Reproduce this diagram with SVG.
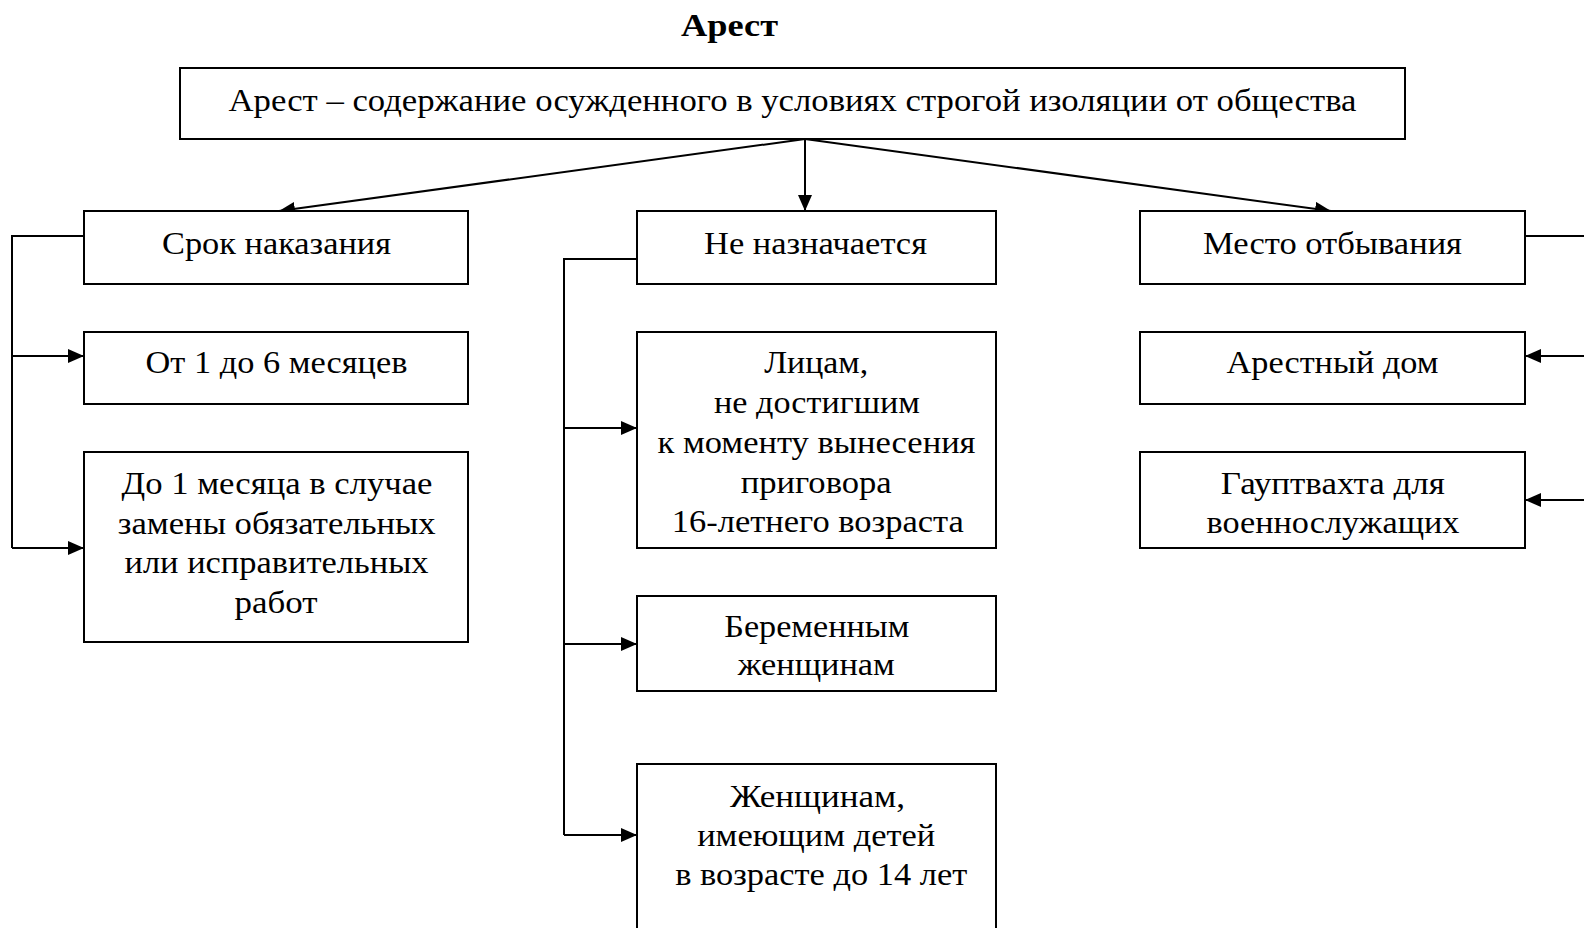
<svg xmlns="http://www.w3.org/2000/svg" width="1584" height="928" viewBox="0 0 1584 928">
<style>
rect.box{fill:#fff;stroke:#000;stroke-width:2}
text{font-family:"Liberation Serif","Times New Roman",serif;font-size:31px;fill:#000;text-anchor:middle}
text.title{font-weight:bold;font-size:32px}
.conn line,.conn polyline{stroke:#000;stroke-width:2;fill:none}
</style>
<defs>
<marker id="arr" markerUnits="userSpaceOnUse" markerWidth="18" markerHeight="16" refX="16" refY="7" orient="auto">
<path d="M0,0 L16,7 L0,14 z" fill="#000"/>
</marker>
</defs>
<text class="title" x="729.5" y="36" textLength="97" lengthAdjust="spacingAndGlyphs">Арест</text>
<g id="conn" class="conn">
<line x1="805" y1="139" x2="279" y2="211" marker-end="url(#arr)"/>
<line x1="805" y1="139" x2="805" y2="211" marker-end="url(#arr)"/>
<line x1="805" y1="139" x2="1331" y2="211" marker-end="url(#arr)"/>
<polyline points="84,236 12,236 12,548"/>
<line x1="12" y1="356" x2="84" y2="356" marker-end="url(#arr)"/>
<line x1="12" y1="548" x2="84" y2="548" marker-end="url(#arr)"/>
<polyline points="637,259 564,259 564,835"/>
<line x1="564" y1="428" x2="637" y2="428" marker-end="url(#arr)"/>
<line x1="564" y1="644" x2="637" y2="644" marker-end="url(#arr)"/>
<line x1="564" y1="835" x2="637" y2="835" marker-end="url(#arr)"/>
<line x1="1525" y1="236" x2="1590" y2="236"/>
<line x1="1590" y1="356" x2="1525" y2="356" marker-end="url(#arr)"/>
<line x1="1590" y1="500" x2="1525" y2="500" marker-end="url(#arr)"/>
</g>
<g id="root"><rect class="box" x="180" y="68" width="1225" height="71"/><text x="792.5" y="111" textLength="1128" lengthAdjust="spacingAndGlyphs">Арест – содержание осужденного в условиях строгой изоляции от общества</text></g>
<g id="srok"><rect class="box" x="84" y="211" width="384" height="73"/><text x="276.5" y="254" textLength="229" lengthAdjust="spacingAndGlyphs">Срок наказания</text></g>
<g id="ne"><rect class="box" x="637" y="211" width="359" height="73"/><text x="815.5" y="254" textLength="223" lengthAdjust="spacingAndGlyphs">Не назначается</text></g>
<g id="mesto"><rect class="box" x="1140" y="211" width="385" height="73"/><text x="1332.5" y="254" textLength="259" lengthAdjust="spacingAndGlyphs">Место отбывания</text></g>
<g id="ot1"><rect class="box" x="84" y="332" width="384" height="72"/><text x="276.5" y="373" textLength="262" lengthAdjust="spacingAndGlyphs">От 1 до 6 месяцев</text></g>
<g id="do1"><rect class="box" x="84" y="452" width="384" height="190"/><text x="277" y="494" textLength="311" lengthAdjust="spacingAndGlyphs">До 1 месяца в случае</text><text x="276.7" y="533.5" textLength="318" lengthAdjust="spacingAndGlyphs">замены обязательных</text><text x="276.5" y="573" textLength="304" lengthAdjust="spacingAndGlyphs">или исправительных</text><text x="276" y="613" textLength="83" lengthAdjust="spacingAndGlyphs">работ</text></g>
<g id="lica"><rect class="box" x="637" y="332" width="359" height="216"/><text x="816.2" y="373" textLength="104" lengthAdjust="spacingAndGlyphs">Лицам,</text><text x="817" y="413" textLength="206" lengthAdjust="spacingAndGlyphs">не достигшим</text><text x="816.5" y="453" textLength="318" lengthAdjust="spacingAndGlyphs">к моменту вынесения</text><text x="816.2" y="493" textLength="151" lengthAdjust="spacingAndGlyphs">приговора</text><text x="817.8" y="532" textLength="292" lengthAdjust="spacingAndGlyphs">16-летнего возраста</text></g>
<g id="berem"><rect class="box" x="637" y="596" width="359" height="95"/><text x="816.8" y="636.5" textLength="185" lengthAdjust="spacingAndGlyphs">Беременным</text><text x="816.3" y="675" textLength="157" lengthAdjust="spacingAndGlyphs">женщинам</text></g>
<g id="zhen"><rect class="box" x="637" y="764" width="359" height="180"/><text x="817.5" y="807" textLength="175" lengthAdjust="spacingAndGlyphs">Женщинам,</text><text x="816.2" y="846" textLength="238" lengthAdjust="spacingAndGlyphs">имеющим детей</text><text x="821.2" y="885" textLength="292" lengthAdjust="spacingAndGlyphs">в возрасте до 14 лет</text></g>
<g id="arest"><rect class="box" x="1140" y="332" width="385" height="72"/><text x="1332.5" y="373" textLength="212" lengthAdjust="spacingAndGlyphs">Арестный дом</text></g>
<g id="gaupt"><rect class="box" x="1140" y="452" width="385" height="96"/><text x="1332.8" y="494" textLength="224" lengthAdjust="spacingAndGlyphs">Гауптвахта для</text><text x="1333" y="533" textLength="253" lengthAdjust="spacingAndGlyphs">военнослужащих</text></g>
</svg>
